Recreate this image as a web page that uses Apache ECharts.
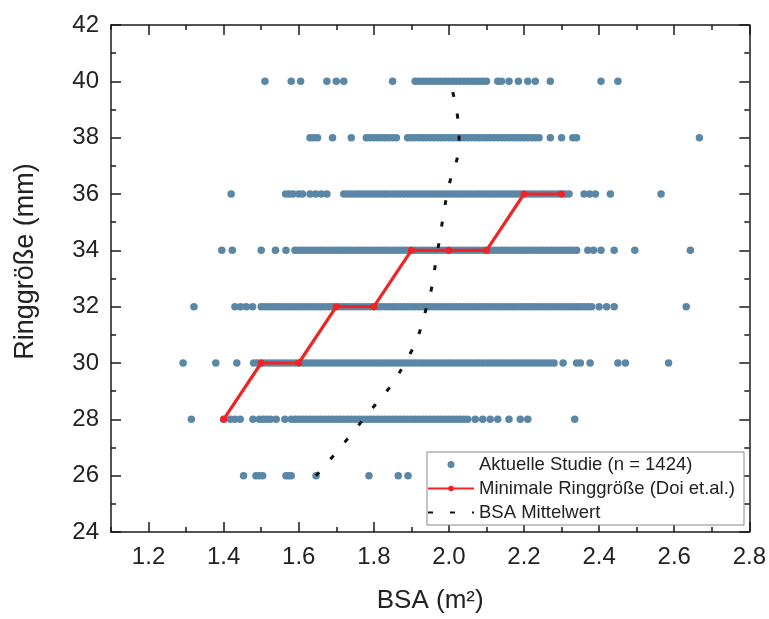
<!DOCTYPE html>
<html>
<head>
<meta charset="utf-8">
<script src="https://cdn.jsdelivr.net/npm/echarts@6/dist/echarts.min.js"></script>
<style>html,body{margin:0;padding:0;background:#fff}#c{width:769px;height:619px}</style>
</head>
<body>
<div id="c"></div>
<script>
// ---- data ----
const bsa26 = [1.453,1.486,1.495,1.504,1.566,1.573,1.58,1.646,1.787,1.865,1.891];
const bsa28 = [1.314,1.40,1.418,1.43,1.444,1.478,1.495,1.505,1.515,1.525,1.54,1.563,
  1.58,1.59,1.60,1.61,1.62,1.63,1.64,1.65,1.66,1.67,1.68,1.69,1.70,1.71,1.72,1.73,1.74,1.75,1.76,1.77,1.78,1.79,1.80,
  1.81,1.82,1.83,1.84,1.85,1.86,1.87,1.88,1.89,1.90,1.91,1.92,1.93,1.94,1.95,1.96,1.97,1.98,1.99,2.00,2.01,2.02,2.03,2.04,2.05,
  2.07,2.09,2.11,2.13,2.16,2.19,2.21,2.335];
const bsa30 = [1.292,1.379,1.435,
  1.48,1.49,1.50,1.51,1.52,1.53,1.54,1.55,1.56,1.57,1.58,1.59,1.60,1.61,1.62,1.63,1.64,1.65,1.66,1.67,1.68,1.69,1.70,
  1.71,1.72,1.73,1.74,1.75,1.76,1.77,1.78,1.79,1.80,1.81,1.82,1.83,1.84,1.85,1.86,1.87,1.88,1.89,1.90,1.91,1.92,1.93,1.94,1.95,
  1.96,1.97,1.98,1.99,2.00,2.01,2.02,2.03,2.04,2.05,2.06,2.07,2.08,2.09,2.10,2.11,2.12,2.13,2.14,2.15,2.16,2.17,2.18,2.19,2.20,
  2.21,2.22,2.23,2.24,2.25,2.26,2.27,2.28,
  2.304,2.34,2.35,2.376,2.45,2.47,2.585];
const bsa32 = [1.321,1.43,1.445,1.46,1.477,
  1.50,1.51,1.52,1.53,1.54,1.55,1.56,1.57,1.58,1.59,1.60,1.61,1.62,1.63,1.64,1.65,1.66,1.67,1.68,1.69,1.70,
  1.71,1.72,1.73,1.74,1.75,1.76,1.77,1.78,1.79,1.80,1.81,1.82,1.83,1.84,1.85,1.86,1.87,1.88,1.89,1.90,1.91,1.92,1.93,1.94,1.95,
  1.96,1.97,1.98,1.99,2.00,2.01,2.02,2.03,2.04,2.05,2.06,2.07,2.08,2.09,2.10,2.11,2.12,2.13,2.14,2.15,2.16,2.17,2.18,2.19,2.20,
  2.21,2.22,2.23,2.24,2.25,2.26,2.27,2.28,2.29,2.30,2.31,2.32,2.33,2.34,2.35,2.36,2.37,2.38,
  2.40,2.42,2.44,2.632];
const bsa34 = [1.395,1.423,1.50,1.538,1.566,
  1.59,1.60,1.61,1.62,1.63,1.64,1.65,1.66,1.67,1.68,1.69,1.70,
  1.71,1.72,1.73,1.74,1.75,1.76,1.77,1.78,1.79,1.80,1.81,1.82,1.83,1.84,1.85,1.86,1.87,1.88,1.89,1.90,1.91,1.92,1.93,1.94,1.95,
  1.96,1.97,1.98,1.99,2.00,2.01,2.02,2.03,2.04,2.05,2.06,2.07,2.08,2.09,2.10,2.11,2.12,2.13,2.14,2.15,2.16,2.17,2.18,2.19,2.20,
  2.21,2.22,2.23,2.24,2.25,2.26,2.27,2.28,2.29,2.30,2.31,2.32,2.33,2.34,
  2.37,2.385,2.405,2.44,2.495,2.643];
const bsa36 = [1.42,1.565,1.575,1.585,1.60,1.61,1.63,1.645,1.66,1.675,
  1.72,1.73,1.74,1.75,1.76,1.77,1.78,1.79,1.80,1.81,1.82,1.83,1.84,1.85,1.86,1.87,1.88,1.89,1.90,1.91,1.92,1.93,1.94,1.95,
  1.96,1.97,1.98,1.99,2.00,2.01,2.02,2.03,2.04,2.05,2.06,2.07,2.08,2.09,2.10,2.11,2.12,2.13,2.14,2.15,2.16,2.17,2.18,2.19,2.20,
  2.21,2.22,2.23,2.24,2.25,2.26,2.27,2.28,2.29,2.30,2.31,2.32,
  2.36,2.375,2.39,2.43,2.565];
const bsa38 = [1.63,1.64,1.65,1.69,1.74,1.78,1.79,1.80,1.81,1.82,1.83,1.84,1.85,1.86,1.89,1.90,1.91,1.92,1.93,1.94,
  1.95,1.96,1.97,1.98,1.99,2.00,2.01,2.02,2.03,2.04,2.05,2.06,2.07,2.08,2.09,2.10,2.11,2.12,2.13,2.14,2.15,2.16,2.17,2.18,2.19,2.20,
  2.21,2.22,2.23,2.24,2.27,2.30,2.33,2.34,2.667];
const bsa40 = [1.51,1.58,1.605,1.675,1.70,1.72,1.85,1.91,1.92,1.93,1.94,1.95,1.96,1.97,1.98,1.99,2.00,2.01,2.02,2.03,2.04,
  2.05,2.06,2.07,2.08,2.09,2.10,2.13,2.14,2.16,2.185,2.21,2.23,2.27,2.405,2.45];
const ringRows = [26,28,30,32,34,36,38,40];
const bsaRows = [bsa26,bsa28,bsa30,bsa32,bsa34,bsa36,bsa38,bsa40];

const doiBSA  = [1.4,1.5,1.6,1.7,1.8,1.9,2.0,2.1,2.2,2.3];
const doiRing = [28,30,30,32,32,34,34,34,36,36];

const meanRing = [26,28,30,32,34,36,38,40];
const meanBSA  = [1.646,1.772,1.883,1.941,1.970,1.995,2.027,2.002];

const xMajorTicks = [1.2,1.4,1.6,1.8,2.0,2.2,2.4,2.6,2.8];
const xMinorTicks = [1.1,1.3,1.5,1.7,1.9,2.1,2.3,2.5,2.7];

const seriesNames = ['Aktuelle Studie (n = 1424)','Minimale Ringgröße (Doi et.al.)','BSA Mittelwert'];
// --------------------------------------

const scatterData = [];
ringRows.forEach((r, i) => bsaRows[i].forEach(x => scatterData.push([x, r])));
const doiData = doiBSA.map((x, i) => [x, doiRing[i]]);
const meanData = meanBSA.map((x, i) => [x, meanRing[i]]);

const FONT = 'Liberation Sans, Arial, sans-serif';
const AX = '#1a1a1a';
function xAx(pos, ticks, len, withLabel, showLine) {
  return {
    type: 'value', position: pos, min: 1.1, max: 2.8,
    axisLine: { show: showLine, onZero: false, lineStyle: { color: AX, width: 1.5 } },
    axisTick: { show: true, inside: true, length: len, customValues: ticks, lineStyle: { color: AX, width: 1.5 } },
    axisLabel: withLabel ? { show: true, customValues: ticks, formatter: v => v.toFixed(1),
      fontSize: 24, color: '#222', fontFamily: FONT, margin: 13 } : { show: false },
    splitLine: { show: false }
  };
}
const xAxes = [
  xAx('bottom', xMajorTicks, 10, true, true),
  xAx('bottom', xMinorTicks, 5, false, false),
  xAx('top', xMajorTicks, 10, false, true),
  xAx('top', xMinorTicks, 5, false, false)
];
Object.assign(xAxes[0], { name: 'BSA (m²)', nameLocation: 'middle', nameGap: 56,
  nameTextStyle: { fontSize: 26, color: '#222', fontFamily: FONT } });

function yAx(pos, withLabel) {
  return {
    type: 'value', position: pos, min: 24, max: 42, interval: 2,
    axisLine: { show: true, onZero: false, lineStyle: { color: AX, width: 1.5 } },
    axisTick: { show: true, inside: true, length: 10, lineStyle: { color: AX, width: 1.5 } },
    minorTick: { show: true, splitNumber: 2, length: 5, lineStyle: { color: AX, width: 1.5 } },
    axisLabel: withLabel ? { show: true, fontSize: 24, color: '#222', fontFamily: FONT, margin: 12 } : { show: false },
    splitLine: { show: false }
  };
}
const yAxes = [yAx('left', true), yAx('right', false)];
Object.assign(yAxes[0], { name: 'Ringgröße (mm)', nameLocation: 'middle', nameGap: 72,
  nameTextStyle: { fontSize: 27, color: '#222', fontFamily: FONT, padding: [0, 0, 0, 34] } });

const chart = echarts.init(document.getElementById('c'), null, { renderer: 'canvas' });
chart.setOption({
  animation: false,
  backgroundColor: '#fff',
  grid: { left: 111, right: 17, top: 25, bottom: 81, containLabel: false },
  xAxis: xAxes,
  yAxis: yAxes,
  legend: {
    orient: 'vertical', left: 427, top: 452,
    itemWidth: 46, itemHeight: 7, itemGap: 5,
    padding: [3, 9, 3, 0],
    borderColor: '#888', borderWidth: 1, backgroundColor: '#fff',
    textStyle: { fontSize: 18.5, color: '#222', fontFamily: FONT },
    data: [
      { name: seriesNames[0] },
      { name: seriesNames[1] },
      { name: seriesNames[2], itemStyle: { opacity: 0 } }
    ]
  },
  series: [
    { name: seriesNames[0], type: 'scatter', data: scatterData, symbol: 'circle', symbolSize: 7.5,
      itemStyle: { color: '#5b87a7', opacity: 1 }, z: 2 },
    { name: seriesNames[1], type: 'line', data: doiData, symbol: 'circle', symbolSize: 7,
      lineStyle: { color: '#f02424', width: 3.2 }, itemStyle: { color: '#f02424' }, z: 3 },
    { name: seriesNames[2], type: 'line', data: meanData, smooth: 0.5, symbol: 'none', showSymbol: false,
      lineStyle: { color: '#111', width: 3, type: [5, 17], cap: 'butt' }, itemStyle: { color: '#111' }, z: 4 }
  ]
});
</script>
</body>
</html>
